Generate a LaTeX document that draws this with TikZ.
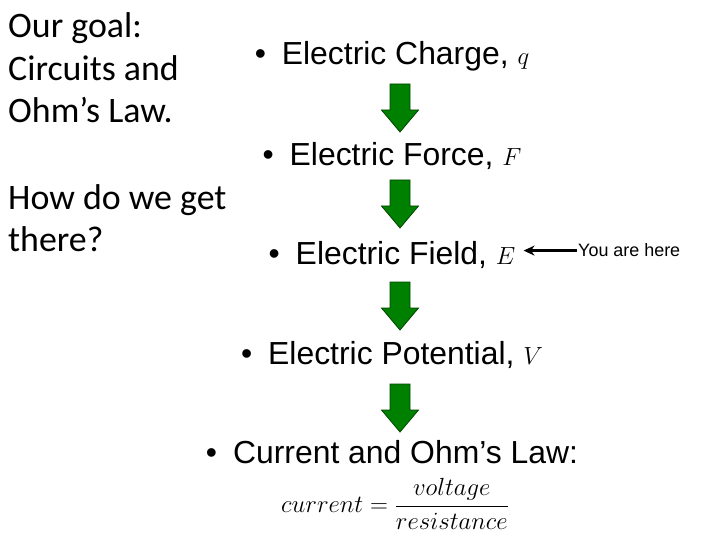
\documentclass[tikz,border=0pt]{standalone}
\usepackage{fontspec}
\setmainfont{Liberation Sans}
\newfontfamily\calibri{Carlito}
\usetikzlibrary{arrows.meta, positioning, calc}

\definecolor{arrowfill}{RGB}{0,128,0}
\definecolor{arrowedge}{RGB}{0,70,0}

\begin{document}
\begin{tikzpicture}[
    x=1bp, y=-1bp,
    every node/.style={inner sep=0pt},
    goaltext/.style={
        font=\calibri\fontsize{36}{43}\selectfont,
        align=left, anchor=base west
    },
    stepbox/.style={font=\fontsize{32}{38}\selectfont, anchor=base},
    herelabel/.style={font=\fontsize{18}{22}\selectfont, anchor=base west},
    greenarrow/.pic={
        \draw[draw=arrowedge, fill=arrowfill, line width=0.8bp]
            (-10,0) -- (10,0) -- (10,26) -- (18.5,26) -- (0,48)
            -- (-18.5,26) -- (-10,26) -- cycle;
    },
    arrow/.style={-{Stealth[length=11bp, width=10bp]}, line width=2.4bp, black}
]

\useasboundingbox[fill=white] (0,0) rectangle (720,540);

% Left column
\node[goaltext] (goal) at (8,123) {Our goal:\\Circuits and\\Ohm’s Law.};
\node[goaltext] (how) at (8,252) {How do we get\\there?};

% Steps
\node[stepbox] (charge)    at (392,65)  {\textbullet\hspace{0.5em}Electric Charge, $q$};
\node[stepbox] (force)     at (392,166) {\textbullet\hspace{0.5em}Electric Force, $F$};
\node[stepbox] (field)     at (392,265) {\textbullet\hspace{0.5em}Electric Field, $E$};
\node[stepbox] (potential) at (392,364) {\textbullet\hspace{0.5em}Electric Potential, $V$};
\node[stepbox] (current)   at (392,463) {\textbullet\hspace{0.5em}Current and Ohm’s Law:};

\node[font=\fontsize{24}{28}\selectfont] (ohm) at (395,504)
    {$\displaystyle current = \frac{voltage}{resistance}$};

% Block arrows
\pic at (400,84)  {greenarrow};
\pic at (400,180) {greenarrow};
\pic at (400,282) {greenarrow};
\pic at (400,384) {greenarrow};

% Marker
\node[herelabel] (here) at (578,257) {You are here};
\draw[arrow] ([xshift=-1bp]here.west) -- ([xshift=8bp]field.east |- here.west);

\end{tikzpicture}
\end{document}
